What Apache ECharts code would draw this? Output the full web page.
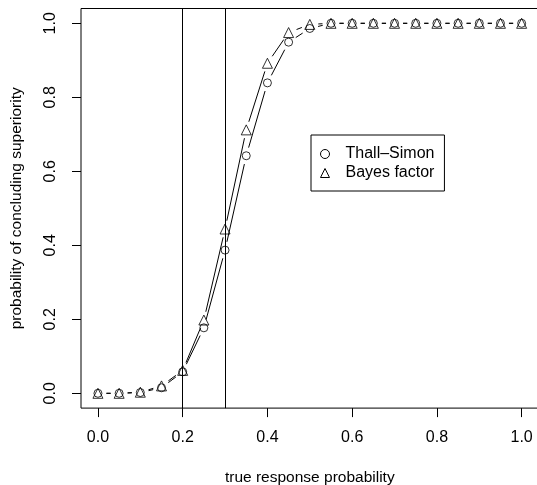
<!DOCTYPE html>
<html>
<head>
<meta charset="utf-8">
<script src="https://cdn.jsdelivr.net/npm/echarts@6/dist/echarts.min.js"></script>
<style>
  html, body { margin: 0; padding: 0; background: #fff; }
  #chart { width: 537px; height: 485px; }
</style>
</head>
<body>
<div id="chart"></div>
<script>
  // true response probability grid
  const xValues = [0, 0.05, 0.1, 0.15, 0.2, 0.25, 0.3, 0.35, 0.4, 0.45, 0.5,
    0.55, 0.6, 0.65, 0.7, 0.75, 0.8, 0.85, 0.9, 0.95, 1.0]
  const thallSimon = [0, 0, 0.002, 0.015, 0.058, 0.177, 0.387, 0.642, 0.839, 0.949, 0.986,
    1, 1, 1, 1, 1, 1, 1, 1, 1, 1]
  const bayesFactor = [0, 0, 0.003, 0.02, 0.062, 0.198, 0.444, 0.712, 0.892, 0.975, 0.997,
    1, 1, 1, 1, 1, 1, 1, 1, 1, 1]
  const tickValues = [0, 0.2, 0.4, 0.6, 0.8, 1.0]
  const refLines = [0.2, 0.3]
  const seriesNames = ['Thall\u2013Simon', 'Bayes factor']

  const font = '"Liberation Sans", Arial, Helvetica, sans-serif'
  const GAP = 8.5 // 类似 R 的 type="b"，线段和点之间留空

  function pairs(ys) {
    return xValues.map((x, i) => [x, ys[i]])
  }

  // 相邻两点组成一段
  function segments(ys) {
    let out = []
    for (let i = 0; i < xValues.length - 1; i++) {
      out.push([xValues[i], ys[i], xValues[i + 1], ys[i + 1]])
    }
    return out
  }

  function renderGapLine(params, api) {
    const p0 = api.coord([api.value(0), api.value(1)])
    const p1 = api.coord([api.value(2), api.value(3)])
    const dx = p1[0] - p0[0]
    const dy = p1[1] - p0[1]
    const len = Math.sqrt(dx * dx + dy * dy)
    if (len <= 2 * GAP) return null
    const ux = dx / len
    const uy = dy / len
    return {
      type: 'line',
      shape: {x1: p0[0] + ux * GAP, y1: p0[1] + uy * GAP, x2: p1[0] - ux * GAP, y2: p1[1] - uy * GAP},
      style: {stroke: '#000', lineWidth: 1}
    }
  }

  const chart = echarts.init(document.getElementById('chart'))

  function axis(name, nameGap, labelExtra) {
    return {
      type: 'value',
      name: name,
      nameLocation: 'middle',
      nameGap: nameGap,
      nameTextStyle: {color: '#000', fontSize: 15.5, fontFamily: font},
      min: -0.04,
      max: 1.04,
      splitLine: {show: false},
      axisLine: {show: false, onZero: false},
      axisTick: {show: true, inside: false, length: 9, customValues: tickValues,
        lineStyle: {color: '#000', width: 1}},
      axisLabel: Object.assign({color: '#000', fontSize: 16, fontFamily: font, customValues: tickValues,
        formatter: v => v.toFixed(1)}, labelExtra)
    }
  }

  const hollow = {color: 'rgba(0,0,0,0)', borderColor: '#000', borderWidth: 1}

  const option = {
    animation: false,
    backgroundColor: '#fff',
    grid: {
      left: 81, top: 8.5, width: 457.6, height: 399.6,
      outerBoundsMode: 'none',
      containLabel: false,
      show: true, borderColor: '#000', borderWidth: 1, backgroundColor: 'transparent'
    },
    legend: {
      orient: 'vertical',
      left: 311,
      top: 135,
      padding: [11, 10, 10, 9],
      itemGap: 3,
      itemWidth: 9,
      itemHeight: 9,
      borderColor: '#000',
      borderWidth: 1,
      borderRadius: 0,
      textStyle: {color: '#000', fontSize: 16, fontFamily: font, padding: [0, 0, 0, 11]},
      data: [
        {name: seriesNames[0], icon: 'circle', itemStyle: hollow},
        {name: seriesNames[1], icon: 'triangle', itemStyle: hollow}
      ]
    },
    xAxis: axis('true response probability', 62, {margin: 21}),
    yAxis: axis('probability of concluding superiority', 56, {margin: 22, rotate: 90}),
    series: [
      {
        name: seriesNames[0],
        type: 'custom',
        renderItem: renderGapLine,
        encode: {x: [0, 2], y: [1, 3]},
        data: segments(thallSimon),
        silent: true,
        z: 2
      },
      {
        name: seriesNames[1],
        type: 'custom',
        renderItem: renderGapLine,
        encode: {x: [0, 2], y: [1, 3]},
        data: segments(bayesFactor),
        silent: true,
        z: 2
      },
      {
        name: seriesNames[0],
        type: 'scatter',
        data: pairs(thallSimon),
        symbol: 'circle',
        symbolSize: 8,
        itemStyle: hollow,
        z: 3,
        markLine: {
          silent: true,
          symbol: 'none',
          label: {show: false},
          lineStyle: {color: '#000', width: 1, type: 'solid'},
          data: refLines.map(v => ({xAxis: v}))
        }
      },
      {
        name: seriesNames[1],
        type: 'scatter',
        data: pairs(bayesFactor),
        symbol: 'triangle',
        symbolSize: 10,
        itemStyle: hollow,
        z: 3
      }
    ]
  }
  chart.setOption(option)
</script>
</body>
</html>
